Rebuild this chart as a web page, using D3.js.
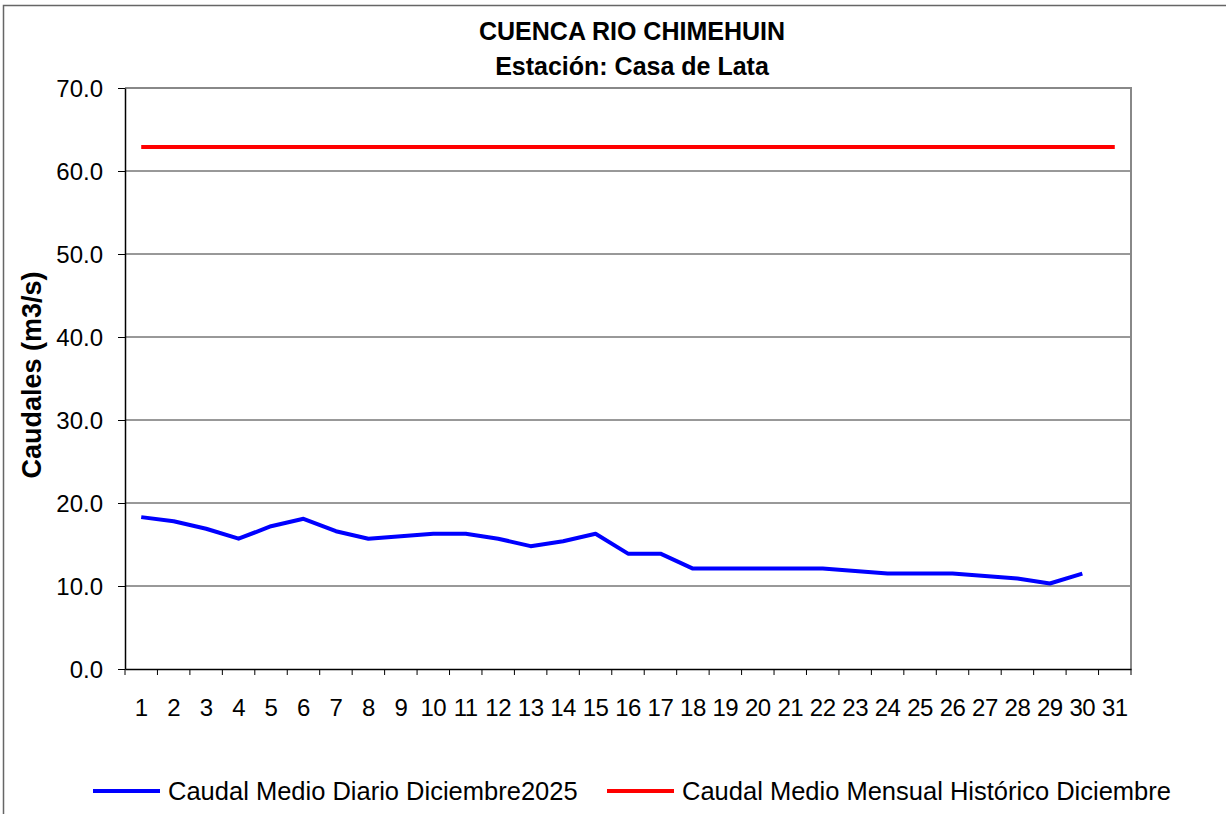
<!DOCTYPE html>
<html><head><meta charset="utf-8">
<script src="https://cdn.jsdelivr.net/npm/d3@7"></script>
<style>body{margin:0;background:#fff}svg{display:block}text{font-family:"Liberation Sans",Arial,sans-serif}</style>
</head><body><svg id="c" width="1226" height="814"></svg>
<script>
const days = d3.range(1, 32).map(String);
const dailyFlow = [18.3,17.8,16.9,15.7,17.2,18.1,16.6,15.7,16.0,16.3,16.3,15.7,14.8,15.4,16.3,13.9,13.9,12.1,12.1,12.1,12.1,12.1,11.8,11.5,11.5,11.5,11.2,10.9,10.3,11.5];
const historicMean = 62.9;
const yTicks = [0,10,20,30,40,50,60,70];
const titleLines = ["CUENCA RIO CHIMEHUIN","Estación: Casa de Lata"];
const seriesNames = ["Caudal Medio Diario Diciembre2025","Caudal Medio Mensual Histórico Diciembre"];
const yLabel = "Caudales (m3/s)";

const svg = d3.select("#c");
const L=125, R=1131, T=88, B=669;
// outer frame
svg.append("rect").attr("x",3.5).attr("y",5.5).attr("width",1240).attr("height",840).attr("fill","none").attr("stroke","#666").attr("stroke-width",1.5);

const x = d3.scaleBand().domain(days).range([L,R]).paddingInner(0).paddingOuter(0);
const y = d3.scaleLinear().domain([0,70]).range([B,T]);

// gridlines
svg.append("g").selectAll("line").data(yTicks.filter(v=>v>0&&v<70)).join("line")
  .attr("x1",L).attr("x2",R).attr("y1",d=>y(d)).attr("y2",d=>y(d)).attr("stroke","#333").attr("stroke-width",1);
// plot border
svg.append("path").attr("d",`M${L},${T}H${R}V${B}`).attr("fill","none").attr("stroke","#888").attr("stroke-width",2);

// y axis
const ya = svg.append("g").attr("transform",`translate(${L},0)`)
  .call(d3.axisLeft(y).tickValues(yTicks).tickFormat(d3.format(".1f")).tickSize(7).tickSizeOuter(0));
ya.select(".domain").attr("stroke","#000").attr("stroke-width",1.5);
ya.selectAll("text").attr("font-size",24).attr("fill","#000").attr("x",-22).attr("dy","0.35em");

// x axis
const xa = svg.append("g").attr("transform",`translate(0,${B})`)
  .call(d3.axisBottom(x).tickSize(0).tickSizeOuter(0));
xa.select(".domain").attr("stroke","#000").attr("stroke-width",1.5);
xa.selectAll("text").attr("font-size",24).attr("fill","#000").attr("y",39).attr("dy","0.35em").attr("letter-spacing","-0.5");
xa.selectAll(".tick line").remove();
svg.append("g").selectAll("line").data(days.concat(["end"])).join("line")
  .attr("x1",(d,i)=>L+i*x.bandwidth()).attr("x2",(d,i)=>L+i*x.bandwidth())
  .attr("y1",B).attr("y2",B+6).attr("stroke","#000");

// lines
const line = d3.line().x((d,i)=>x(days[i])+x.bandwidth()/2).y(d=>y(d));
svg.append("path").datum(days.map(()=>historicMean)).attr("d",line).attr("fill","none").attr("stroke","#ff0000").attr("stroke-width",4);
svg.append("path").datum(dailyFlow).attr("d",line).attr("fill","none").attr("stroke","#0000ff").attr("stroke-width",4).attr("stroke-linejoin","round");

// titles
svg.selectAll(".tt").data(titleLines).join("text").attr("class","tt")
  .attr("x",632).attr("y",(d,i)=>40+i*35).attr("text-anchor","middle")
  .attr("font-size",25).attr("font-weight","bold").text(d=>d);
svg.append("text").attr("transform","translate(41,375) rotate(-90)").attr("text-anchor","middle")
  .attr("font-size",27).attr("font-weight","bold").text(yLabel);

// legend
const colors=["#0000ff","#ff0000"];
const lx=[93,607];
seriesNames.forEach((n,i)=>{
  svg.append("line").attr("x1",lx[i]).attr("x2",lx[i]+67).attr("y1",791).attr("y2",791).attr("stroke",colors[i]).attr("stroke-width",4);
  svg.append("text").attr("x",lx[i]+75).attr("y",800).attr("font-size",25.5).text(n);
});
</script></body></html>
